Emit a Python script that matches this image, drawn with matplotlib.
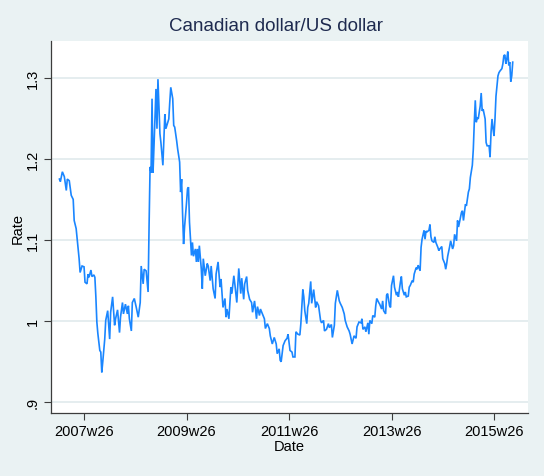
import matplotlib
matplotlib.use("Agg")
import matplotlib.pyplot as plt


# weekly observations, week counted from 2007w1 (Stata %tw)
week = [
    0, 1, 3, 5, 7, 8, 10, 12, 14, 15, 17, 19, 20, 21, 23, 25, 26, 28, 29, 30,
    32, 33, 35, 36, 37, 38, 39, 40, 41, 42, 43, 44, 46, 47, 49, 51, 52, 54, 56, 57,
    59, 61, 62, 64, 65, 67, 69, 70, 71, 73, 74, 76,
    78, 80, 82, 83, 85, 86, 88, 90, 91, 92, 93, 94, 95, 96, 98, 99, 100, 102,
    103, 105, 107, 108, 109, 111, 112, 113, 115, 116, 117, 119, 120, 122, 123, 124, 125, 126, 127, 129,
    130, 131, 132, 134, 135, 136, 138, 139, 140, 141, 142, 144, 145, 146, 148, 150,
    151, 153, 154, 156, 158, 159, 161, 163, 164, 166, 168, 169, 170, 172, 174, 175, 177, 178, 180, 181,
    182, 184, 185, 187, 188, 190, 191, 193, 195, 196, 198, 200, 201, 203, 204, 206, 208, 209, 211, 213,
    214, 216, 218, 220, 221, 223, 224, 225, 227, 229,
    231, 232, 234, 236, 237, 239, 240, 242, 244, 245, 247, 248, 249, 251, 252, 253, 255, 256, 258, 260,
    261, 263, 265, 266, 268, 269, 271, 273, 274, 276, 277, 279, 280, 282, 284, 285, 287, 289, 290, 292,
    294, 295, 297, 299, 301, 302, 304, 306, 307, 308, 310, 311, 313, 314, 315,
    317, 318, 320, 321, 322, 324, 325, 327, 328, 329, 331, 332, 333, 335, 336, 337, 339, 340, 342, 343,
    344, 346, 347, 348, 350, 351, 352, 354, 355, 356, 358, 359, 360, 362, 363, 364, 366, 367, 368, 370,
    371, 372, 373, 375, 376, 377, 378, 380, 381, 382, 384, 385, 386, 388, 389, 391, 392, 393, 394, 396, 397,
    399, 400, 401, 403, 404, 405, 406, 408, 409, 410, 412, 413, 415, 416, 417, 419, 420, 421, 422, 423,
    424, 425, 427, 428, 429, 430, 432, 433, 434, 436, 437, 438, 439, 440, 441, 442, 443, 445, 446, 447,
    449, 450, 451, 452, 453, 454, 455, 456, 457, 458, 459, 460,
]

rate = [
    1.175, 1.172, 1.184, 1.178, 1.161, 1.175, 1.173, 1.155, 1.150, 1.124, 1.114, 1.089, 1.077, 1.060, 1.068, 1.067, 1.048, 1.046, 1.058, 1.054,
    1.063, 1.055, 1.057, 1.054, 1.030, 0.999, 0.985, 0.975, 0.964, 0.962, 0.937, 0.950, 0.978, 1.001, 1.013, 0.978, 1.011, 1.030, 0.995, 1.003,
    1.014, 0.986, 1.005, 1.023, 1.009, 1.021, 1.009, 1.019, 1.003, 0.988, 1.023, 1.028,
    1.017, 1.005, 1.023, 1.068, 1.046, 1.064, 1.062, 1.036, 1.118, 1.190, 1.183, 1.274, 1.183, 1.216, 1.286, 1.237, 1.298, 1.231,
    1.220, 1.192, 1.255, 1.237, 1.241, 1.249, 1.270, 1.288, 1.274, 1.241, 1.239, 1.222, 1.212, 1.196, 1.159, 1.175, 1.132, 1.095, 1.116, 1.146,
    1.163, 1.165, 1.122, 1.081, 1.097, 1.080, 1.089, 1.073, 1.089, 1.073, 1.093, 1.064, 1.040, 1.077, 1.056, 1.071,
    1.068, 1.050, 1.068, 1.040, 1.028, 1.058, 1.073, 1.042, 1.052, 1.017, 1.028, 1.005, 1.015, 1.003, 1.042, 1.034, 1.056, 1.046, 1.023, 1.044,
    1.065, 1.034, 1.053, 1.027, 1.046, 1.055, 1.038, 1.027, 1.023, 1.011, 1.025, 1.003, 1.018, 1.007, 1.015, 1.009, 1.003, 0.991, 0.997, 0.991,
    0.982, 0.972, 0.980, 0.972, 0.960, 0.966, 0.952, 0.950, 0.970, 0.976,
    0.979, 0.984, 0.964, 0.962, 0.956, 0.956, 0.987, 0.984, 0.983, 0.997, 1.039, 1.030, 1.013, 0.997, 1.017, 1.022, 1.049, 1.022, 1.039, 1.017,
    1.024, 1.019, 1.001, 0.998, 1.001, 0.988, 0.990, 0.997, 0.992, 0.996, 0.980, 0.995, 1.022, 1.038, 1.025, 1.022, 1.017, 1.009, 1.001, 0.993,
    0.988, 0.984, 0.972, 0.982, 0.979, 0.993, 0.999, 0.998, 1.003, 0.990, 0.993, 0.987, 0.998, 0.984, 1.001,
    0.997, 1.007, 1.005, 1.019, 1.028, 1.023, 1.021, 1.015, 1.025, 1.013, 1.009, 1.032, 1.034, 1.019, 1.017, 1.044, 1.056, 1.042, 1.032, 1.036,
    1.030, 1.048, 1.055, 1.040, 1.032, 1.036, 1.030, 1.031, 1.042, 1.044, 1.050, 1.048, 1.058, 1.066, 1.064, 1.069, 1.062, 1.091, 1.101, 1.112,
    1.101, 1.111, 1.110, 1.112, 1.119, 1.104, 1.099, 1.097, 1.104, 1.097, 1.091, 1.087, 1.089, 1.092, 1.077, 1.071, 1.064, 1.071, 1.080, 1.092, 1.099,
    1.089, 1.093, 1.107, 1.099, 1.124, 1.116, 1.122, 1.134, 1.136, 1.124, 1.144, 1.142, 1.159, 1.163, 1.177, 1.192, 1.212, 1.245, 1.272, 1.245,
    1.251, 1.249, 1.265, 1.281, 1.259, 1.261, 1.249, 1.220, 1.216, 1.216, 1.202, 1.233, 1.249, 1.237, 1.228, 1.249, 1.277, 1.302, 1.306, 1.308,
    1.311, 1.317, 1.327, 1.328, 1.317, 1.323, 1.332, 1.315, 1.319, 1.295, 1.302, 1.319,
]

x_tick_labels = ["2007w26", "2009w26", "2011w26", "2013w26", "2015w26"]
y_ticks = [0.9, 1.0, 1.1, 1.2, 1.3]
y_tick_labels = [".9", "1", "1.1", "1.2", "1.3"]

START = (2007 - 1960) * 52  # 2007w1 as a Stata weekly number

BG = "#EAF2F3"
GRID = "#E3ECEE"
LINE = "#1A86FF"
AXIS = "#3C3C3C"


def stata_week(label: str) -> int:
    year, w = label.split("w")
    return (int(year) - 1960) * 52 + int(w) - 1


def main() -> None:
    plt.rcParams["font.family"] = ["Liberation Sans", "DejaVu Sans"]

    fig = plt.figure(figsize=(5.44, 4.77), dpi=100, facecolor=BG)
    ax = fig.add_axes([0.0938, 0.1321, 0.8768, 0.7798])
    ax.set_facecolor("white")

    t = [START + w for w in week]
    ax.plot(t, rate, color=LINE, lw=1.2, solid_joinstyle="miter")

    ax.set_xlim(START - 8.5, START + 475.5)
    ax.set_ylim(0.887, 1.345)

    ax.set_xticks([stata_week(s) for s in x_tick_labels])
    ax.set_xticklabels(x_tick_labels, fontsize=10.5, color="black")
    ax.set_yticks(y_ticks)
    ax.set_yticklabels(y_tick_labels, fontsize=10.5, rotation=90, va="center", color="black")

    ax.grid(axis="y", color=GRID, lw=1.3)
    ax.set_axisbelow(True)
    ax.tick_params(axis="both", direction="out", length=5, width=0.8, color=AXIS, pad=3)

    for side in ["top", "right"]:
        ax.spines[side].set_visible(False)
    for side in ["left", "bottom"]:
        ax.spines[side].set_color(AXIS)
        ax.spines[side].set_linewidth(0.9)

    ax.set_xlabel("Date", fontsize=10.5, labelpad=1)
    ax.set_ylabel("Rate", fontsize=10.5, labelpad=1)

    fig.text(0.507, 0.945, "Canadian dollar/US dollar", ha="center", va="center",
             fontsize=13.5, color="#1E2A4F")

    fig.savefig("out.png", dpi=100, facecolor=BG)
    plt.close(fig)


if __name__ == "__main__":
    main()
